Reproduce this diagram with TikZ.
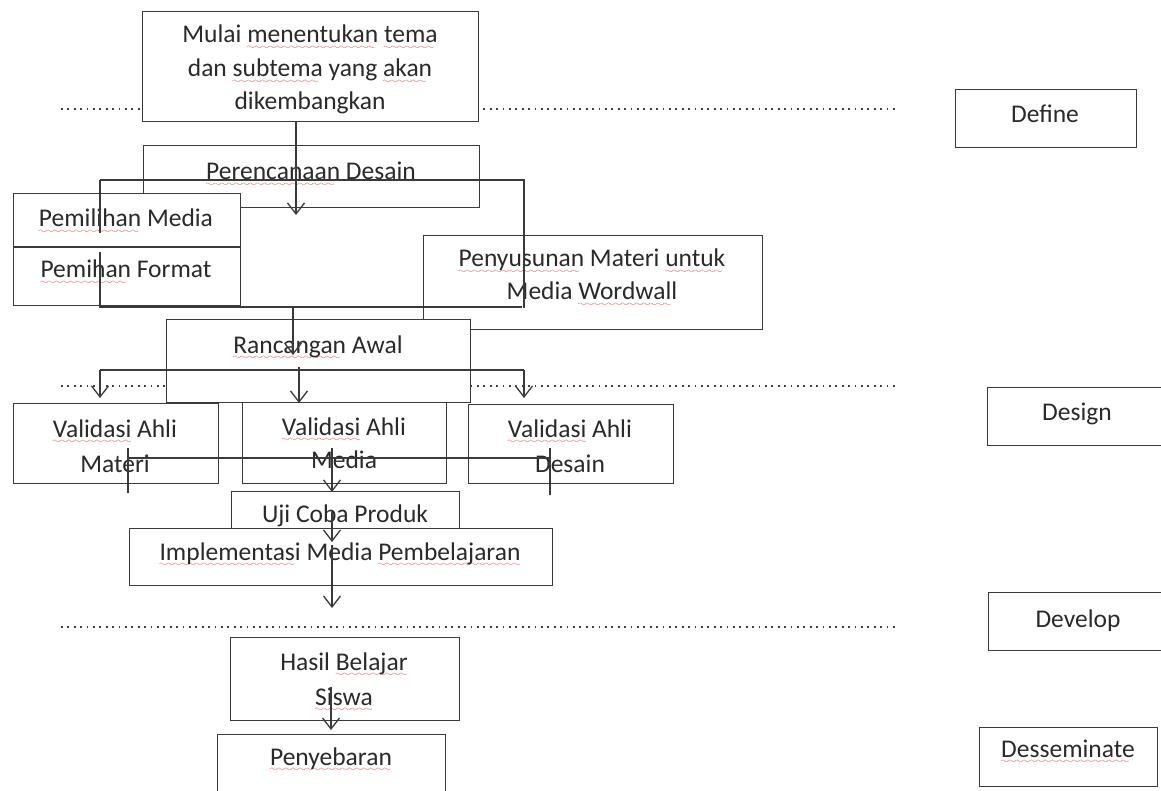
\documentclass[tikz,border=0pt]{standalone}
\usepackage{fontspec}
\setmainfont{Carlito}
\usetikzlibrary{arrows.meta}
\definecolor{ln}{HTML}{3A3A3A}
\definecolor{txtc}{HTML}{2A2A2A}
\definecolor{sqred}{HTML}{E04848}
\definecolor{dotc}{HTML}{404040}
\font\sqfont=lasy6 at 8.5pt
\newbox\sqbox
\newcommand\sq[1]{\setbox\sqbox\hbox{#1}\rlap{\lower6.5pt\hbox to\wd\sqbox{\color{sqred}\leaders\hbox{\sqfont\char58}\hfill}}\box\sqbox}
\begin{document}
\begin{tikzpicture}[x=1pt,y=-1pt,
  box/.style={draw=ln, line width=1.4pt, fill=white, inner sep=0pt, anchor=north west},
  txt/.style={anchor=base, inner sep=0pt, font=\fontsize{25.5}{34}\selectfont, text=txtc},
  con/.style={draw=ln, line width=1.3pt},
  arr/.style={con, -{Straight Barb[length=11pt,width=17pt]}},
  sep/.style={draw=dotc, line width=1.7pt, dash pattern=on 1.7pt off 4.7pt}]
\useasboundingbox (0,0) rectangle (1161,791);
% phase separators
\coordinate (s1a) at (61,109);  \coordinate (s1b) at (895,109);
\coordinate (s2a) at (61,386);  \coordinate (s2b) at (895,386);
\coordinate (s3a) at (61,627);  \coordinate (s3b) at (895,627);
\draw[sep] (s1a) -- (s1b);
\draw[sep] (s2a) -- (s2b);
\draw[sep] (s3a) -- (s3b);
% boxes
\node[box, minimum width=336, minimum height=110] (mulai) at (142,11) {};
\node[box, minimum width=336, minimum height=62] (perenc) at (143,145) {};
\node[box, minimum width=227, minimum height=112] (pemil) at (13,193) {};
\draw[con] (pemil.west |- 0,247) -- (pemil.east |- 0,247);
\node[box, minimum width=339, minimum height=94] (penyu) at (423,235) {};
\node[box, minimum width=304, minimum height=83] (ranc) at (166,319) {};
\node[box, minimum width=205, minimum height=80] (valmat) at (13,403) {};
\node[box, minimum width=204, minimum height=81] (valmed) at (242,402) {};
\node[box, minimum width=205, minimum height=79] (valdes) at (468,404) {};
\node[box, minimum width=228, minimum height=45] (uji) at (231,491) {};
\node[box, minimum width=423, minimum height=57] (impl) at (129,528) {};
\node[box, minimum width=229, minimum height=83] (hasil) at (230,637) {};
\node[box, minimum width=228, minimum height=70] (penye) at (217,734) {};
\node[box, minimum width=181, minimum height=58] (define) at (955,89) {};
\node[box, minimum width=190, minimum height=58] (design) at (987,387) {};
\node[box, minimum width=190, minimum height=58] (develop) at (988,592) {};
\node[box, minimum width=178, minimum height=59] (dessem) at (979,727) {};
% texts
\node[txt] (mulai-1) at (310,43) {Mulai \sq{menentukan} \sq{tema}};
\node[txt] (mulai-2) at (310,77) {dan \sq{subtema} yang \sq{akan}};
\node[txt] (mulai-3) at (310,110) {dikembangkan};
\node[txt] (perenc-t) at (311,180) {\sq{Perencanaan} Desain};
\node[txt] (pemil-1) at (126,227) {\sq{Pemilihan} Media};
\node[txt] (pemil-2) at (126,278) {\sq{Pemihan} Format};
\node[txt] (penyu-1) at (592,267) {\sq{Penyusunan} Materi \sq{untuk}};
\node[txt] (penyu-2) at (592,300) {Media \sq{Wordwall}};
\node[txt] (ranc-t) at (318,353) {\sq{Rancangan} Awal};
\node[txt] (valmat-1) at (115,437) {\sq{Validasi} Ahli};
\node[txt] (valmat-2) at (115,472) {Materi};
\node[txt] (valmed-1) at (344,435) {\sq{Validasi} Ahli};
\node[txt] (valmed-2) at (344,468) {Media};
\node[txt] (valdes-1) at (570,437) {\sq{Validasi} Ahli};
\node[txt] (valdes-2) at (570,472) {Desain};
\node[txt] (uji-t) at (345,522) {Uji Coba Produk};
\node[txt] (impl-t) at (340,560) {\sq{Implementasi} Media \sq{Pembelajaran}};
\node[txt] (hasil-1) at (344,670) {Hasil \sq{Belajar}};
\node[txt] (hasil-2) at (344,705) {\sq{Siswa}};
\node[txt] (penye-t) at (331,765) {\sq{Penyebaran}};
\node[txt] (define-t) at (1045,123) {Define};
\node[txt] (design-t) at (1077,420) {Design};
\node[txt] (develop-t) at (1078,627) {Develop};
\node[txt] (dessem-t) at (1068,757) {\sq{Desseminate}};
% connector points
\coordinate (a1s) at (296,121);  \coordinate (a1e) at (296,215);
\coordinate (b1tl) at (100,180); \coordinate (b1tr) at (524,180);
\coordinate (b1m) at (100,233);  \coordinate (b1n) at (100,252);
\coordinate (b1bl) at (100,307); \coordinate (b1bm) at (522,307);
\coordinate (b1br) at (524,308);
\coordinate (a2s) at (293,307);  \coordinate (a2e) at (293,355);
\coordinate (b2l) at (100,370);  \coordinate (b2r) at (524,370);
\coordinate (b2le) at (100,398); \coordinate (b2re) at (524,398);
\coordinate (b2cs) at (299,367); \coordinate (b2ce) at (299,403);
\coordinate (m1) at (128,458);   \coordinate (m2) at (550,458);
\coordinate (m1t) at (128,448);  \coordinate (m1b) at (128,493);
\coordinate (m2t) at (550,448);  \coordinate (m2b) at (550,495);
\coordinate (mcs) at (332,448);  \coordinate (mce) at (332,492);
\coordinate (a4s) at (332,512);  \coordinate (a4e) at (332,542);
\coordinate (a5s) at (332,545);  \coordinate (a5e) at (332,608);
\coordinate (a6s) at (331,687);  \coordinate (a6e) at (331,730);
% connectors
\draw[arr] (a1s) -- (a1e);
\draw[con] (b1tl) -- (b1tr) -- (b1br);
\draw[con] (b1tl) -- (b1m);
\draw[con] (b1n) -- (b1bl) -- (b1bm);
\draw[arr] (a2s) -- (a2e);
\draw[con] (b2l) -- (b2r);
\draw[arr] (b2l) -- (b2le);
\draw[arr] (b2r) -- (b2re);
\draw[arr] (b2cs) -- (b2ce);
\draw[con] (m1) -- (m2);
\draw[con] (m1t) -- (m1b);
\draw[con] (m2t) -- (m2b);
\draw[arr] (mcs) -- (mce);
\draw[arr] (a4s) -- (a4e);
\draw[arr] (a5s) -- (a5e);
\draw[arr] (a6s) -- (a6e);
\end{tikzpicture}
\end{document}
